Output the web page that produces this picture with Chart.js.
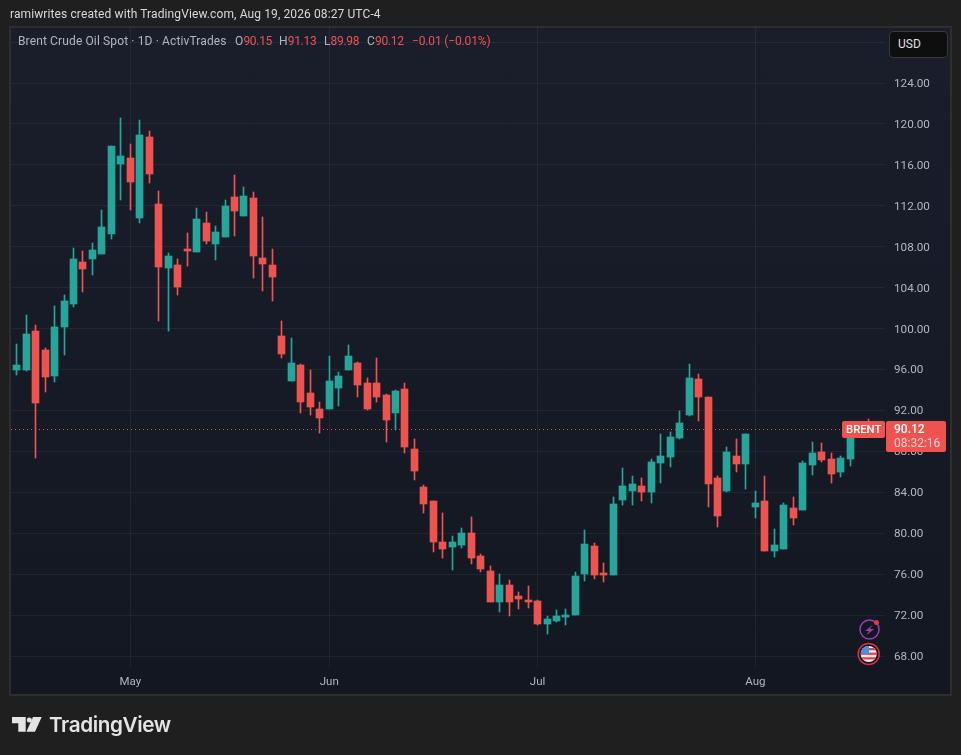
<!DOCTYPE html>
<html>
<head>
<meta charset="utf-8">
<title>Brent Crude Oil Spot</title>
<script src="https://cdn.jsdelivr.net/npm/chart.js@4"></script>
<style>
  html, body { margin: 0; padding: 0; background: #1f1f1f; }
  #page { position: relative; width: 961px; height: 755px; overflow: hidden; font-family: Roboto, sans-serif; }
  #pane { position: absolute; left: 9px; top: 26px; width: 939px; height: 666px; border: 2px solid #2e2e2e;
           background: linear-gradient(#1a1e2a, #131722); }
  canvas { position: absolute; left: 0; top: 0; }
  .txt { position: absolute; white-space: nowrap; font-size: 12px; line-height: 14px; }
  #credit { left: 10px; top: 7px; color: #d9d9d9; letter-spacing: 0.11px; }
  .legend { top: 34px; color: #b2b5be; letter-spacing: 0.13px; }
  .legend b { font-weight: 400; color: #ef5350; letter-spacing: -0.3px; }
  #usd { position: absolute; left: 889px; top: 31px; width: 57px; height: 25px; background: #0e0e0e;
         border: 1px solid #3a3a3a; border-radius: 4px; color: #dfe1e6; font-size: 12px; line-height: 25px; text-indent: 8px; }
  #brand { left: 49px; top: 712px; color: #e4e4e4; font-family: Inter, sans-serif; font-weight: 600; font-size: 20.7px; line-height: 26px; letter-spacing: -0.4px; }
  svg { position: absolute; left: 0; top: 0; }
</style>
</head>
<body>
<div id="page">
  <div id="pane"></div>
  <canvas id="chart_brent" width="961" height="755"></canvas>
  <div class="txt" id="credit">ramiwrites created with TradingView.com, Aug 19, 2026 08:27 UTC-4</div>
  <div class="txt legend" style="left:18px">Brent Crude Oil Spot · 1D · ActivTrades</div>
  <div class="txt legend" style="left:235px">O<b>90.15</b></div>
  <div class="txt legend" style="left:279px">H<b>91.13</b></div>
  <div class="txt legend" style="left:324px">L<b>89.98</b></div>
  <div class="txt legend" style="left:367px">C<b>90.12</b></div>
  <div class="txt legend" style="left:412px"><b style="letter-spacing:-0.15px">−0.01 (−0.01%)</b></div>
  <div id="usd">USD</div>
  <svg width="961" height="755">
    <!-- logo -->
    <path d="M12 717H25.7V731.7H18.3V723.2H12Z M33 717H41.7L35 731.7H26.4Z" fill="#e4e4e4"/>
    <circle cx="29.3" cy="720" r="2.5" fill="#e4e4e4"/>
    <!-- event icons -->
    <circle cx="869.5" cy="629.5" r="9.5" fill="#131722" stroke="#9c3fb5" stroke-width="1.5"/>
    <path d="M872.5 625L865 631H869L866 635.5L874 629H870Z" fill="#9c3fb5"/>
    <circle cx="876.5" cy="622.5" r="2.5" fill="#f2303f"/>
    <circle cx="868.7" cy="654" r="10.5" fill="#131722" stroke="#d9303e" stroke-width="1.5"/>
    <clipPath id="flag"><circle cx="868.7" cy="654" r="8"/></clipPath>
    <g clip-path="url(#flag)">
      <rect x="860" y="646" width="18" height="16" fill="#f0f0f0"/>
      <rect x="860" y="648" width="18" height="2.3" fill="#e0474c"/>
      <rect x="860" y="652.6" width="18" height="2.3" fill="#e0474c"/>
      <rect x="860" y="657.2" width="18" height="2.3" fill="#e0474c"/>
      <rect x="860" y="646" width="9" height="8" fill="#4a90e2"/>
    </g>
  </svg>
  <div class="txt" id="brand">TradingView</div>
</div>

<script>
// daily candles, Apr 15 - Aug 19 2026
var dates = [
  'Apr 15','Apr 16','Apr 17','Apr 20','Apr 21','Apr 22','Apr 23','Apr 24','Apr 27','Apr 28','Apr 29','Apr 30',
  'May 1','May 4','May 5','May 6','May 7','May 8','May 11','May 12','May 13','May 14','May 15','May 18','May 19','May 20','May 21','May 22','May 25','May 26','May 27','May 28','May 29',
  'Jun 1','Jun 2','Jun 3','Jun 4','Jun 5','Jun 8','Jun 9','Jun 10','Jun 11','Jun 12','Jun 15','Jun 16','Jun 17','Jun 18','Jun 19','Jun 22','Jun 23','Jun 24','Jun 25','Jun 26','Jun 29','Jun 30',
  'Jul 1','Jul 2','Jul 3','Jul 6','Jul 7','Jul 8','Jul 9','Jul 10','Jul 13','Jul 14','Jul 15','Jul 16','Jul 17','Jul 20','Jul 21','Jul 22','Jul 23','Jul 24','Jul 27','Jul 28','Jul 29','Jul 30','Jul 31',
  'Aug 3','Aug 4','Aug 5','Aug 6','Aug 7','Aug 10','Aug 11','Aug 12','Aug 13','Aug 14','Aug 17','Aug 18','Aug 19'
];
var opens = [
  95.95,95.95,99.76,97.90,95.36,100.15,102.40,106.50,106.80,107.29,109.24,116.09,
  116.67,110.80,118.72,112.17,105.92,106.21,107.78,107.48,110.31,108.26,108.95,112.86,111.00,112.76,106.89,106.21,99.27,94.87,96.43,93.70,92.14,
  92.14,94.19,95.95,96.63,94.68,94.68,93.51,91.75,94.09,88.23,84.52,83.15,79.14,78.65,78.85,80.02,77.77,76.31,73.28,74.94,73.86,73.47,
  73.37,71.13,71.42,71.81,72.01,76.01,78.75,76.11,75.92,83.25,84.13,84.62,84.03,86.86,87.45,89.30,91.55,95.07,93.31,85.40,84.13,87.54,86.76,
  82.57,83.15,78.26,78.46,82.47,82.27,86.67,87.93,87.25,85.99,87.25,90.50,90.15
];
var highs = [
  98.49,101.32,100.35,98.10,102.20,103.28,107.87,107.58,108.36,111.59,117.84,120.58,
  118.03,120.38,119.31,113.44,107.38,106.80,109.34,111.78,111.39,110.02,112.56,115.01,113.83,113.34,110.90,107.78,100.74,99.08,96.53,95.95,92.82,
  97.31,95.75,98.39,96.73,95.17,97.12,93.61,94.00,94.68,89.20,84.72,83.15,81.98,79.73,80.51,81.59,77.97,76.80,76.01,75.43,74.26,74.84,
  73.47,71.91,72.49,72.59,76.21,80.31,79.04,77.09,83.54,86.38,85.60,85.40,87.25,89.69,89.89,91.94,96.53,95.56,93.31,85.60,88.42,89.20,89.69,
  84.13,85.60,80.41,82.96,83.54,87.06,88.91,88.81,87.84,87.54,90.28,90.85,91.13
];
var lows = [
  95.46,95.85,87.35,93.80,94.77,97.41,102.11,103.57,105.23,107.29,108.75,112.56,
  111.59,110.31,114.22,100.74,99.76,103.28,106.11,107.48,108.26,106.70,108.95,109.04,111.00,104.94,103.67,102.69,97.12,94.87,91.75,91.55,89.79,
  92.14,92.43,95.95,93.31,92.04,92.82,88.91,90.09,87.84,85.20,81.98,78.16,77.57,76.41,78.55,76.98,76.21,73.28,72.30,71.91,72.59,72.69,
  71.03,70.15,71.32,71.03,72.01,75.33,75.53,75.24,75.92,82.76,82.76,83.15,82.96,84.91,86.47,89.20,91.45,90.96,82.57,80.61,84.03,85.98,84.33,
  81.49,78.26,77.67,78.46,80.80,82.27,85.70,86.96,84.91,85.50,86.57,89.60,89.98
];
var closes = [
  96.43,99.47,92.73,95.27,100.15,102.69,106.80,105.82,107.68,109.92,117.84,116.87,
  114.32,118.92,115.11,106.01,107.09,104.06,107.58,110.71,108.56,109.44,111.98,111.49,112.95,107.09,106.31,105.04,97.51,96.63,92.82,92.33,91.26,
  94.87,95.36,97.31,94.48,92.14,93.31,91.06,93.90,88.42,86.08,82.86,79.14,78.46,79.14,80.02,77.57,76.50,73.28,74.94,73.28,73.57,73.28,
  71.13,71.62,71.91,72.01,75.82,78.94,75.92,75.92,82.86,84.62,84.82,84.03,86.96,87.54,89.40,90.77,95.17,93.31,84.82,81.68,87.93,86.76,89.69,
  82.96,78.26,78.85,82.76,81.49,86.86,87.84,87.15,85.79,87.35,90.09,90.13,90.12
];
var priceTicks = [68,72,76,80,84,88,92,96,100,104,108,112,116,120,124,128];
var monthFirsts = ['May 1','Jun 1','Jul 1','Aug 3'];
var monthNames = ['May','Jun','Jul','Aug'];
var lastPrice = 90.12;
var countdown = '08:32:16';

var GREEN = '#26a69a';
var RED = '#ef5350';
var AXIS_TEXT = '#b2b5be';
var monthTicks = monthFirsts.map(function(d) { return dates.indexOf(d); });
var candleColors = dates.map(function(d, i) { return closes[i] >= opens[i] ? GREEN : RED; });

// tradingview candles sit on whole pixels, so snap the bars before they are painted
var snapCandles = {
  id: 'snapCandles',
  beforeDatasetsDraw: function(chart) {
    chart.data.datasets.forEach(function(ds, n) {
      chart.getDatasetMeta(n).data.forEach(function(el) {
        el.x = Math.floor(el.x) + 0.5;
        el.y = Math.round(el.y);
        el.base = Math.round(el.base);
      });
    });
    // dotted last price line goes under the candles
    var ctx = chart.ctx;
    var y = Math.floor(chart.scales.y.getPixelForValue(lastPrice)) + 0.5;
    ctx.save();
    ctx.strokeStyle = RED;
    ctx.setLineDash([1, 3]);
    ctx.beginPath();
    ctx.moveTo(chart.chartArea.left, y);
    ctx.lineTo(chart.chartArea.right, y);
    ctx.stroke();
    ctx.restore();
  },
  afterDraw: function(chart) {
    var ctx = chart.ctx;
    var y = Math.floor(chart.scales.y.getPixelForValue(lastPrice));
    ctx.save();
    ctx.fillStyle = RED;
    ctx.beginPath();
    ctx.roundRect(842, y - 8, 43, 17, 2);
    ctx.fill();
    ctx.beginPath();
    ctx.roundRect(886, y - 8, 60, 31, 2);
    ctx.fill();
    ctx.textBaseline = 'middle';
    ctx.font = '500 11.3px Roboto';
    ctx.fillStyle = '#ffffff';
    ctx.fillText('BRENT', 846, y + 1);
    ctx.font = '500 12px Roboto';
    ctx.fillText(lastPrice.toFixed(2), 894, y + 1);
    ctx.font = '12px Roboto';
    ctx.fillStyle = 'rgba(255,255,255,0.75)';
    ctx.fillText(countdown, 894, y + 15);
    ctx.restore();
  }
};

var c1 = document.getElementById('chart_brent').getContext('2d');
new Chart(c1, {
  type: 'bar',
  plugins: [snapCandles],
  data: {
    datasets: [{
      // wicks
      data: dates.map(function(d, i) { return {x: i, y: [lows[i], highs[i]]}; }),
      backgroundColor: candleColors,
      barThickness: 1,
      order: 2
    }, {
      // bodies
      data: dates.map(function(d, i) { return {x: i, y: [opens[i], closes[i]]}; }),
      backgroundColor: candleColors,
      barThickness: 7,
      order: 1
    }]
  },
  options: {
    responsive: false,
    animation: false,
    events: [],
    layout: { padding: { left: 11, top: 27 } },
    datasets: { bar: { grouped: false } },
    plugins: { legend: { display: false }, tooltip: { enabled: false } },
    scales: {
      x: {
        type: 'linear',
        min: -0.602,
        max: 91.69,
        offset: false,
        afterFit: function(scale) { scale.height = 88; },
        afterBuildTicks: function(scale) {
          scale.ticks = monthTicks.map(function(v) { return {value: v}; });
        },
        grid: { offset: false, color: 'rgba(240,243,250,0.06)', drawTicks: false },
        border: { display: false },
        ticks: {
          autoSkip: false,
          maxRotation: 0,
          padding: 8,
          color: AXIS_TEXT,
          font: { family: 'Roboto', size: 11.5 },
          callback: function(v) { return monthNames[monthTicks.indexOf(v)]; }
        }
      },
      y: {
        position: 'right',
        min: 66.925,
        max: 129.473,
        afterFit: function(scale) { scale.width = 76; },
        afterBuildTicks: function(scale) {
          scale.ticks = priceTicks.map(function(v) { return {value: v}; });
        },
        grid: { color: 'rgba(240,243,250,0.06)', drawTicks: false },
        border: { display: false },
        ticks: {
          padding: 9,
          labelOffset: 1,
          color: AXIS_TEXT,
          font: { family: 'Roboto', size: 11.7 },
          // the 128 line has its label under the USD button
          callback: function(v) { return v === 128 ? '' : v.toFixed(2); }
        }
      }
    }
  }
});
</script>
</body>
</html>
